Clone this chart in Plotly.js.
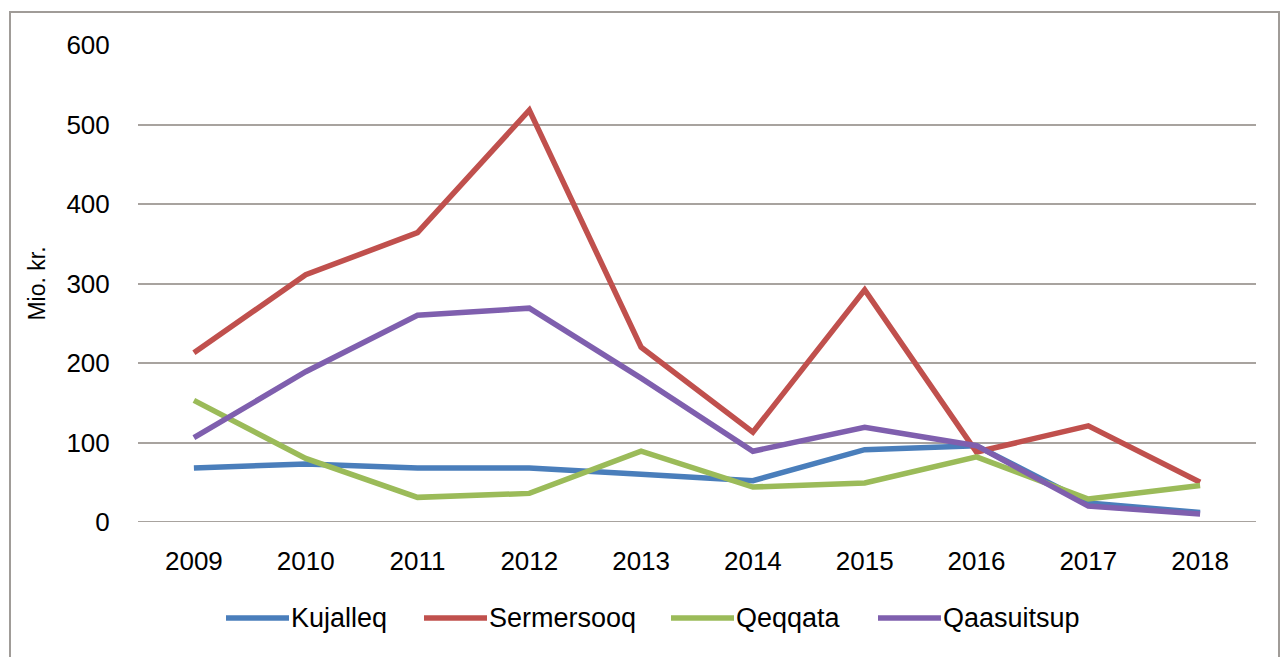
<!DOCTYPE html>
<html>
<head>
<meta charset="utf-8">
<script src="https://cdn.plot.ly/plotly-3.0.1.min.js"></script>
<style>html,body{margin:0;padding:0;background:#fff;}#chart{width:1281px;height:657px;}</style>
</head>
<body>
<div id="chart"></div>
<script>
const years = ["2009","2010","2011","2012","2013","2014","2015","2016","2017","2018"];
const kujalleq   = [68, 73, 68, 68, 60, 52, 91, 96, 24, 12];
const sermersooq = [213, 311, 364, 518, 220, 113, 292, 88, 121, 50];
const qeqqata    = [153, 80, 31, 36, 89, 44, 49, 82, 29, 46];
const qaasuitsup = [106, 189, 260, 269, 181, 89, 119, 96, 20, 10];
const seriesNames = ["Kujalleq", "Sermersooq", "Qeqqata", "Qaasuitsup"];
const seriesColors = ["#4A7EBB", "#C0504D", "#9BBB59", "#7F5FAE"];
const seriesValues = [kujalleq, sermersooq, qeqqata, qaasuitsup];

const traces = seriesValues.map((v, i) => ({
  x: years, y: v, type: "scatter", mode: "lines", name: seriesNames[i],
  line: {color: seriesColors[i], width: 5.5}, showlegend: false
}));

const font = {family: "Liberation Sans, Arial, sans-serif", color: "#000"};

// legend drawn as shapes + annotations (layout positions in pixels -> paper)
const plotL = 138, plotW = 1118, plotB = 522, plotH = 477;
const px = p => (p - plotL) / plotW;
const legendLineStarts = [226, 424, 671, 878];
const legendLineLen = 63;
const legendY = (plotB - 618) / plotH;

const shapes = [
  {type: "rect", xref: "paper", yref: "paper",
   x0: px(10), x1: px(1279), y0: -0.3, y1: (plotB - 12) / plotH,
   line: {color: "#A09C98", width: 2}, fillcolor: "rgba(0,0,0,0)", layer: "below"},
  {type: "line", xref: "paper", yref: "y", x0: 0, x1: 1, y0: 0, y1: 0,
   line: {color: "#A8A39F", width: 2}, layer: "below"}
];
const annotations = [];
seriesNames.forEach((n, i) => {
  const s = legendLineStarts[i];
  shapes.push({type: "line", xref: "paper", yref: "paper",
    x0: px(s), x1: px(s + legendLineLen), y0: legendY, y1: legendY,
    line: {color: seriesColors[i], width: 5.5}});
  annotations.push({xref: "paper", yref: "paper", x: px(s + legendLineLen + 1), y: legendY,
    xanchor: "left", yanchor: "middle", showarrow: false, text: n,
    font: Object.assign({size: 27}, font), borderpad: 0});
});

const layout = {
  width: 1281, height: 657,
  margin: {l: 138, r: 25, t: 45, b: 135},
  paper_bgcolor: "#fff", plot_bgcolor: "#fff",
  font: Object.assign({size: 26}, font),
  showlegend: false,
  xaxis: {type: "category", range: [-0.5, 9.5], showgrid: false, zeroline: false,
          showline: false, ticks: "outside", ticklen: 16, tickcolor: "rgba(0,0,0,0)",
          tickfont: Object.assign({size: 26}, font), fixedrange: true},
  yaxis: {range: [0, 600], dtick: 100, showgrid: true, gridcolor: "#A8A39F", gridwidth: 2,
          zeroline: false, showline: false, ticks: "outside", ticklen: 22,
          tickcolor: "rgba(0,0,0,0)", tickfont: Object.assign({size: 26}, font),
          title: {text: "Mio. kr.", font: Object.assign({size: 23}, font), standoff: 14}},
  shapes: shapes,
  annotations: annotations
};
Plotly.newPlot("chart", traces, layout, {displayModeBar: false, staticPlot: true});
</script>
</body>
</html>
